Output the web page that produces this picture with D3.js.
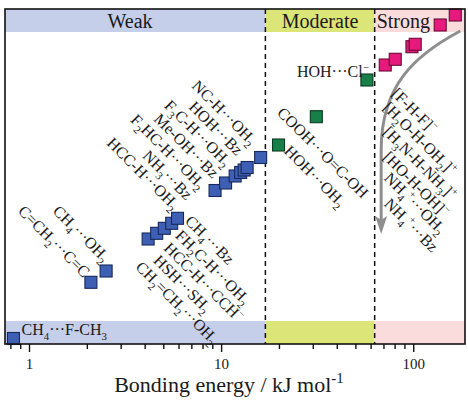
<!DOCTYPE html>
<html>
<head>
<meta charset="utf-8">
<script src="https://cdn.jsdelivr.net/npm/d3@7"></script>
<style>
  body { margin: 0; background: #fff; }
  svg { display: block; }
  text { font-family: "Liberation Serif", "Times New Roman", serif; fill: #1a1a1a; }
</style>
</head>
<body>
<svg width="468" height="400"></svg>
<script>
// regions of bonding strength (kJ/mol)
const bandNames = ['Weak', 'Moderate', 'Strong'];
const bandEdges = [0.75, 17, 63, 186];

const majorTicks = [1, 10, 100];
const minorTicks = [0.8, 0.9, 2, 3, 4, 5, 6, 7, 8, 9, 20, 30, 40, 50, 60, 70, 80, 90];

// complexes, "_x" = subscript, "^x" = superscript
const names = [
  'CH_4···F-CH_3', 'C=CH_2···C=C', 'CH_4···OH_2',
  'CH_2=CH_2···OH_2', 'HSH···SH_2', 'HCC-H···CCH^−', 'FH_2C-H···OH_2', 'CH_4···Bz',
  'HCC-H···OH_2', 'NH_3···Bz', 'F_2HC-H···OH_2', 'Me-OH···Bz', 'F_3C-H···OH_2', 'HOH···Bz', 'NC-H···OH_2',
  'HOH···OH_2', 'COOH···O=C-OH', 'HOH···Cl^−',
  'NH_4^+···Bz', 'NH_4^+···OH_2', '[HO-H-OH]^−', '[H_3N-H-NH_3]^+', '[H_2O-H-OH_2]^+', '[F-H-F]^−'
];
const energy = [
  0.83, 2.10, 2.52,
  4.17, 4.62, 5.06, 5.53, 5.93,
  9.30, 10.55, 11.83, 12.64, 13.18, 13.66, 16.06,
  19.9, 31.3, 57.4,
  71.5, 80.6, 98.5, 102.4, 138.2, 165.5
];
// vertical stacking height (no axis)
const stack = [
  5.5, 61.7, 73,
  105, 110.7, 115.7, 120.7, 125.7,
  153.5, 161, 168, 171.5, 174, 176.5, 186.5,
  199, 227.3, 264,
  279, 284.7, 297.3, 299.7, 319, 329
];
const strength = [
  0, 0, 0,
  0, 0, 0, 0, 0,
  0, 0, 0, 0, 0, 0, 0,
  1, 1, 1,
  2, 2, 2, 2, 2, 2
];

// arrow drawn over the strong complexes: [energy, height]
const arrowPts = [[175.7, 313], [102.4, 289], [68.1, 259], [68.1, 194], [68.1, 124]];

// label placement relative to marker: [dx, dy, rotation, anchor]
const labelLayout = [
  [8, -3.5, 0, 'start'], [-7.5, -4, 45, 'end'], [-3, -8, 45, 'end'],
  [-13.3, 29, 45, 'start'], [-4.2, 28.2, 45, 'start'], [-1.3, 20.7, 45, 'start'], [2.8, 13.2, 45, 'start'], [6.7, 3.7, 45, 'start'],
  [-42.3, 20.3, 45, 'end'], [-39.8, 17.8, 45, 'end'], [-36, 14, 45, 'end'], [-28.5, 6.5, 45, 'end'],
  [-19.5, -2.5, 45, 'end'], [-10.8, -11.3, 45, 'end'], [-10.5, -11.5, 45, 'end'],
  [4.7, 7, 45, 'start'], [-40, -3, 45, 'start'], [-70, -3, 0, 'start'],
  [-2, 139.7, 45, 'start'], [-12, 119.7, 45, 'start'], [-29.7, 111.3, 45, 'start'],
  [-33, 88.7, 45, 'start'], [-58, 83.5, 45, 'start'], [-64.5, 79.5, 45, 'start']
];

const svg = d3.select('svg');
const plotL = 5, plotR = 465, plotT = 9, plotB = 344;

const x = d3.scaleLog().domain([bandEdges[0], bandEdges[3]]).range([plotL, plotR]);
const y = d3.scaleLinear().domain([0, 335]).range([plotB, plotT]);

const bandFill = ['#c5cfea', '#dce577', '#fbdcdc'];
const fill = ['#3e60b4', '#178049', '#e61a7c'];
const edge = ['#17285a', '#0b3a20', '#6a0a36'];

function richText(sel, str, fs) {
  const parts = [];
  for (let i = 0; i < str.length; i++) {
    const c = str[i];
    if ((c === '_' || c === '^') && i + 1 < str.length) {
      parts.push({t: str[i + 1], k: c});
      i++;
    } else if (parts.length && parts[parts.length - 1].k === 'n') {
      parts[parts.length - 1].t += c;
    } else {
      parts.push({t: c, k: 'n'});
    }
  }
  let cur = 0;
  parts.forEach(p => {
    const target = p.k === '_' ? fs * 0.3 : p.k === '^' ? -fs * 0.4 : 0;
    sel.append('tspan')
      .attr('dy', target - cur)
      .attr('font-size', p.k === 'n' ? fs : fs * 0.68)
      .text(p.t);
    cur = target;
  });
}

// bands on top and bottom
const bands = d3.range(bandNames.length);
[[plotT, 32], [321, plotB]].forEach(([y0, y1]) => {
  svg.append('g').selectAll('rect')
    .data(bands)
    .enter().append('rect')
      .attr('x', i => x(bandEdges[i]))
      .attr('width', i => x(bandEdges[i + 1]) - x(bandEdges[i]))
      .attr('y', y0)
      .attr('height', y1 - y0)
      .attr('fill', i => bandFill[i]);
});

svg.append('text').attr('x', x(bandEdges[0]) + 125).attr('y', 28)
  .attr('text-anchor', 'middle').attr('font-size', 20).text(bandNames[0]);
svg.append('text').attr('x', (x(bandEdges[1]) + x(bandEdges[2])) / 2).attr('y', 28)
  .attr('text-anchor', 'middle').attr('font-size', 20).text(bandNames[1]);
svg.append('text').attr('x', x(bandEdges[2]) + 2).attr('y', 28)
  .attr('text-anchor', 'start').attr('font-size', 20).text(bandNames[2]);

// dashed dividers
svg.selectAll('line.div')
  .data([bandEdges[1], bandEdges[2]])
  .enter().append('line')
    .attr('x1', d => x(d)).attr('x2', d => x(d))
    .attr('y1', plotT).attr('y2', plotB)
    .attr('stroke', '#111').attr('stroke-width', 1.5)
    .attr('stroke-dasharray', '5,4');

// arrow
const ap = arrowPts.map(p => [x(p[0]), y(p[1])]);
svg.append('path')
  .attr('d', 'M' + ap[0] + 'C' + ap[1] + ' ' + ap[2] + ' ' + ap[3] + 'L' + ap[4])
  .attr('fill', 'none').attr('stroke', '#8e8e8e').attr('stroke-width', 3);
const tip = ap[4];
svg.append('path')
  .attr('d', `M${tip[0] - 6},${tip[1] - 4}L${tip[0]},${tip[1] + 14}L${tip[0] + 6},${tip[1] - 4}L${tip[0]},${tip[1]}Z`)
  .attr('fill', '#8e8e8e');

// markers
const idx = d3.range(names.length);
svg.append('g').selectAll('rect')
  .data(idx)
  .enter().append('rect')
    .attr('x', i => x(energy[i]) - 6)
    .attr('y', i => y(stack[i]) - 6)
    .attr('width', 12).attr('height', 12)
    .attr('fill', i => fill[strength[i]])
    .attr('stroke', i => edge[strength[i]])
    .attr('stroke-width', 1.1);

// labels
svg.append('g').selectAll('text')
  .data(idx)
  .enter().append('text')
    .attr('transform', i => {
      const L = labelLayout[i];
      return `translate(${x(energy[i]) + L[0]},${y(stack[i]) + L[1]}) rotate(${L[2]})`;
    })
    .attr('text-anchor', i => labelLayout[i][3])
    .attr('font-size', 16)
    .each(function(i) { richText(d3.select(this), names[i], 16); });

// frame
svg.append('rect')
  .attr('x', plotL).attr('y', plotT)
  .attr('width', plotR - plotL).attr('height', plotB - plotT)
  .attr('fill', 'none').attr('stroke', '#111').attr('stroke-width', 1.6);

// axis
const gx = svg.append('g').attr('transform', `translate(0,${plotB})`)
  .call(d3.axisBottom(x).tickValues(majorTicks).tickFormat(d3.format('d')).tickSize(8).tickPadding(6));
gx.attr('font-family', null).attr('font-size', 15);
gx.select('.domain').remove();
gx.selectAll('line').attr('stroke', '#111').attr('stroke-width', 1.4);

const gm = svg.append('g').attr('transform', `translate(0,${plotB})`)
  .call(d3.axisBottom(x).tickValues(minorTicks).tickSize(5));
gm.select('.domain').remove();
gm.selectAll('text').remove();
gm.selectAll('line').attr('stroke', '#111').attr('stroke-width', 1.4);

const title = svg.append('text').attr('x', 229).attr('y', 392)
  .attr('text-anchor', 'middle').attr('font-size', 22);
richText(title, 'Bonding energy / kJ mol^-^1', 22);
</script>
</body>
</html>
